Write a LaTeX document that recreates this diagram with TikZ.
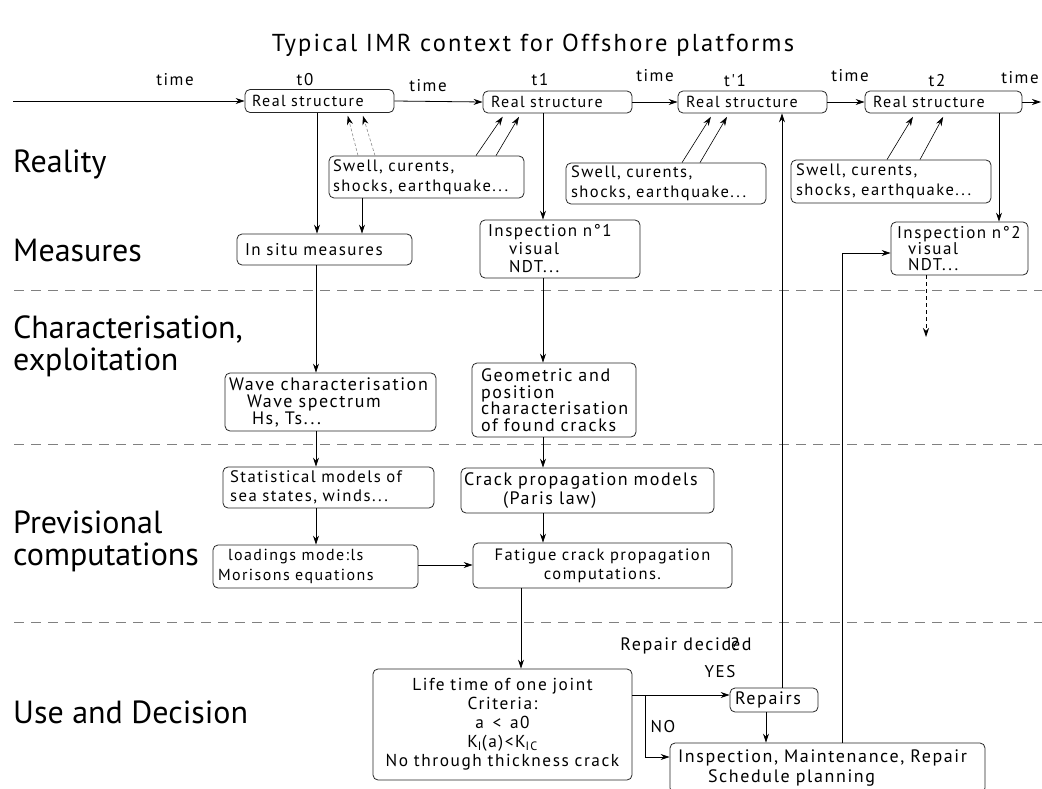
\documentclass[tikz,border=0pt]{standalone}
\usepackage{fontspec}
\setmainfont{PT Sans}
\newfontfamily\bxfam[LetterSpace=9]{PT Sans}
\usetikzlibrary{arrows.meta}
\newcommand\bx[2]{\bxfam\fontsize{#1}{#2}\selectfont}
\newcommand\lblf{\fontsize{32}{36}\selectfont}
\newcommand\nb[1]{\mbox{#1}}
\begin{document}
\begin{tikzpicture}[x=1pt,y=-1pt,
  box/.style={draw=black!85, line width=0.8pt, rounded corners=5pt, inner ysep=0pt, font=\bx{17}{18}, align=left},
  lbl/.style={font=\lblf, anchor=base west, inner sep=0pt},
  sm/.style={font=\bx{17}{18}, inner sep=0pt},
  arr/.style={line width=0.8pt, -{Stealth[length=9pt,width=6pt]}},
  sep/.style={draw=black!50, line width=0.8pt, dash pattern=on 10pt off 7pt},
  darr/.style={draw=black!45, line width=0.6pt, dash pattern=on 3pt off 2pt, -{Stealth[length=9pt,width=6pt,black]}},
  sarr/.style={line width=0.6pt, -{Stealth[length=9pt,width=6pt]}, shorten >=4pt}
]
\clip (0,0) rectangle (1042,789);

% title and row labels
\node[sm, font=\bx{24.5}{28}] (title) at (533,45) {Typical IMR context for Offshore platforms};
\node[lbl] (reality) at (13,173) {Reality};
\node[lbl] (measures) at (13,261) {Measures};
\node[lbl] (charac) at (13,338) {Characterisation,};
\node[lbl] (exploit) at (13,370) {exploitation};
\node[lbl] (prev) at (13,533) {Previsional};
\node[lbl] (comput) at (13,565) {computations};
\node[lbl] (use) at (13,723) {Use and Decision};

% separators
\coordinate (s1a) at (14,290); \coordinate (s1b) at (1042,290);
\coordinate (s2a) at (14,444); \coordinate (s2b) at (1042,444);
\coordinate (s3a) at (14,622); \coordinate (s3b) at (1042,622);
\draw[sep] (s1a) -- (s1b);
\draw[sep] (s2a) -- (s2b);
\draw[sep] (s3a) -- (s3b);

% real structure boxes
\node[box, font=\bx{16}{18}, minimum width=149pt, minimum height=23pt, inner xsep=7pt, text width=135pt] (t0) at (319.5,101) {\nb{Real structure}};
\node[box, font=\bx{16}{18}, minimum width=149pt, minimum height=22pt, inner xsep=8pt, text width=133pt] (t1) at (557.5,102) {\nb{Real structure}};
\node[box, font=\bx{16}{18}, minimum width=149pt, minimum height=22pt, inner xsep=8pt, text width=133pt] (tp1) at (752.5,102) {\nb{Real structure}};
\node[box, font=\bx{16}{18}, minimum width=157pt, minimum height=22pt, inner xsep=8pt, text width=141pt] (t2) at (943.5,102) {\nb{Real structure}};

% time labels
\node[sm] (time0) at (175,80) {time};
\node[sm] (lt0) at (305,80) {t0};
\node[sm] (time1) at (428,86) {time};
\node[sm] (lt1) at (540,80) {t1};
\node[sm] (time2) at (655,76) {time};
\node[sm] (ltp1) at (735,81) {t'1};
\node[sm] (time3) at (850,76) {time};
\node[sm] (lt2) at (937,81) {t2};
\node[sm] (time4) at (1020,78) {time};

% environment boxes
\node[box, font=\bx{16.5}{20}, minimum width=195pt, minimum height=42pt, inner xsep=4pt, text width=187pt] (swA) at (426.5,177) {\nb{Swell, curents,}\\\nb{shocks, earthquake...}};
\node[box, font=\bx{16.5}{20}, minimum width=200pt, minimum height=41pt, inner xsep=5pt, text width=190pt] (swB) at (666,183.5) {\nb{Swell, curents,}\\\nb{shocks, earthquake...}};
\node[box, font=\bx{16.5}{20}, minimum width=200pt, minimum height=43pt, inner xsep=5pt, text width=190pt] (swC) at (891,181.5) {\nb{Swell, curents,}\\\nb{shocks, earthquake...}};

% measures
\node[box, font=\bx{17}{18}, minimum width=175pt, minimum height=31pt, inner xsep=8pt, text width=159pt] (insitu) at (324.5,249.5) {\nb{In situ measures}};
\node[box, font=\bx{17}{18}, minimum width=160pt, minimum height=58pt, inner xsep=8pt, text width=144pt] (insp1) at (560,249) {\nb{Inspection n°1}\\\hspace*{21pt}visual\\\hspace*{21pt}NDT...};
\node[box, font=\bx{17}{16}, minimum width=137pt, minimum height=53pt, inner xsep=6pt, text width=125pt] (insp2) at (959.5,248.5) {\nb{Inspection n°2}\\\hspace*{11pt}visual\\\hspace*{11pt}NDT...};

% characterisation
\node[box, font=\bx{18}{17}, minimum width=211pt, minimum height=58pt, inner xsep=4pt, text width=203pt] (wave) at (330.5,402) {\nb{Wave characterisation}\\\hspace*{18pt}\nb{Wave spectrum}\\\hspace*{23pt}\nb{Hs, Ts...}};
\node[box, font=\bx{18}{16.5}, minimum width=164pt, minimum height=74pt, inner xsep=9pt, text width=146pt] (geom) at (554,400) {\nb{Geometric and}\\position\\characterisation\\\nb{of found cracks}};

% previsional
\node[box, font=\bx{16.7}{19}, minimum width=211pt, minimum height=41pt, inner xsep=7pt, text width=197pt] (stat) at (328.5,487.5) {\nb{Statistical models of}\\\nb{sea states, winds...}};
\node[box, font=\bx{18}{19}, minimum width=253pt, minimum height=45pt, inner xsep=3pt, text width=247pt] (crack) at (587.5,490.5) {\nb{Crack propagation models}\\\hspace*{39pt}\nb{(Paris law)}};
\node[box, font=\bx{16}{20}, minimum width=205pt, minimum height=43pt, inner xsep=5pt, text width=195pt] (load) at (315.5,566.5) {\hspace*{10pt}\nb{loadings mode:ls}\\\nb{Morisons equations}};
\node[box, font=\bx{16.5}{19}, minimum width=259pt, minimum height=45pt, inner xsep=5pt, text width=249pt, align=center] (fat) at (602.5,565.5) {\nb{Fatigue crack propagation}\\computations.};

% decision
\node[box, font=\bx{17.3}{19}, minimum width=259pt, minimum height=111pt, inner xsep=3pt, text width=253pt, align=center] (life) at (502.5,724.5) {\nb{Life time of one joint}\\Criteria:\\\nb{a \,<\, a0}\\K\textsubscript{I}(a)<K\textsubscript{IC}\\\nb{No through thickness crack}};
\node[box, font=\bx{18}{18}, minimum width=88pt, minimum height=24pt, inner xsep=5pt, text width=78pt] (repairs) at (774,700) {Repairs};
\node[box, font=\bx{18}{20}, minimum width=315pt, minimum height=50pt, inner xsep=8pt, text width=299pt] (imr) at (827.5,768) {\nb{Inspection, Maintenance, Repair}\\\hspace*{30pt}\nb{Schedule planning}};

\node[sm, font=\bx{18}{18}] (repq) at (686,646) {Repair decid\rlap{?}ed};
\node[sm, font=\bx{17}{18}] (yes) at (720,672) {YES};
\node[sm, font=\bx{17}{18}] (no) at (663,727) {NO};

% column/row coordinates
\coordinate (start) at (13,101);
\coordinate (tend) at (1041,102);
\coordinate (cA) at (317,0);
\coordinate (cB) at (362,0);
\coordinate (cC) at (543,0);
\coordinate (cD) at (316,0);
\coordinate (cE) at (521,0);
\coordinate (cF) at (782,0);
\coordinate (cG) at (766,0);
\coordinate (cH) at (842,0);
\coordinate (cI) at (999,0);
\coordinate (cJ) at (926,0);
\coordinate (cK) at (645,0);
\coordinate (rY) at (0,695);
\coordinate (rN) at (0,757);
\coordinate (rH) at (0,253);
\coordinate (rL) at (0,565);
\coordinate (dend) at (926,337);

% time axis
\draw[arr] (start) -- (t0.west);
\draw[arr] (t0.east) -- (t1.west);
\draw[arr] (t1.east) -- (tp1.west);
\draw[arr] (tp1.east) -- (t2.west);
\draw[arr] (t2.east) -- (tend);

% environment influences
\draw[darr, shorten >=3pt] ([xshift=-68.5pt]swA.north) -- ([xshift=27.5pt]t0.south);
\draw[darr, shorten >=3pt] ([xshift=-51.5pt]swA.north) -- ([xshift=42.5pt]t0.south);
\draw[sarr] ([xshift=49.5pt]swA.north) -- ([xshift=-52.5pt]t1.south);
\draw[sarr] ([xshift=69.5pt]swA.north) -- ([xshift=-36.5pt]t1.south);
\draw[sarr] ([xshift=16pt]swB.north) -- ([xshift=-39.5pt]tp1.south);
\draw[sarr] ([xshift=34pt]swB.north) -- ([xshift=-23.5pt]tp1.south);
\draw[sarr] ([xshift=-4pt]swC.north) -- ([xshift=-28.5pt]t2.south);
\draw[sarr] ([xshift=29pt]swC.north) -- ([xshift=1.5pt]t2.south);

% vertical flow
\draw[arr] (t0.south -| cA) -- (insitu.north -| cA);
\draw[arr] (swA.south -| cB) -- (insitu.north -| cB);
\draw[arr] (t1.south -| cC) -- (insp1.north -| cC);
\draw[arr] (t2.south -| cI) -- (insp2.north -| cI);
\draw[arr, dash pattern=on 4pt off 3pt] (insp2.south -| cJ) -- (dend);
\draw[arr] (insitu.south -| cD) -- (wave.north -| cD);
\draw[arr] (insp1.south -| cC) -- (geom.north -| cC);
\draw[arr] (wave.south -| cD) -- (stat.north -| cD);
\draw[arr] (geom.south -| cC) -- (crack.north -| cC);
\draw[arr] (stat.south -| cD) -- (load.north -| cD);
\draw[arr] (crack.south -| cC) -- (fat.north -| cC);
\draw[arr] (load.east |- rL) -- (fat.west |- rL);
\draw[arr] (fat.south -| cE) -- (life.north -| cE);

% decision
\draw[arr] (life.east |- rY) -- (repairs.west |- rY);
\draw[arr] (cK |- rY) -- (cK |- rN) -- (imr.west |- rN);
\draw[arr] (repairs.south -| cG) -- (imr.north -| cG);
\draw[arr] (repairs.north -| cF) -- (tp1.south -| cF);
\draw[arr] (imr.north -| cH) -- (cH |- rH) -- (insp2.west |- rH);
\end{tikzpicture}
\end{document}
